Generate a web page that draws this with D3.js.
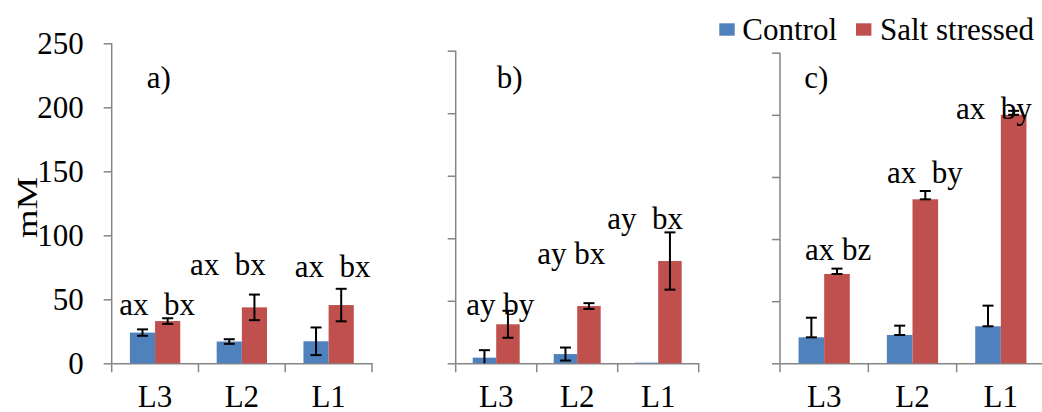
<!DOCTYPE html>
<html>
<head>
<meta charset="utf-8">
<script src="https://cdn.jsdelivr.net/npm/d3@7"></script>
<style>
  body { margin: 0; background: #fff; }
  text { font-family: "Liberation Serif", "Times New Roman", serif; fill: #000; }
</style>
</head>
<body>
<div id="chart"></div>
<script>
// DATA
var categories = ["L3", "L2", "L1"];
var panelNames = ["a)", "b)", "c)"];
var seriesNames = ["Control", "Salt stressed"];
var yTicks = [0, 50, 100, 150, 200, 250];

var controlA = [24, 17, 17.2],   controlErrA = [2.5, 1.8, 10.8];
var saltA    = [33, 43.7, 45.5], saltErrA    = [2.2, 10, 12.7];
var controlB = [4.5, 7.4, 0.5],  controlErrB = [6, 5.2, 0];
var saltB    = [31.2, 45.8, 81.8], saltErrB  = [10.8, 2.3, 22.9];
var controlC = [20.9, 22.8, 29.8], controlErrC = [15.8, 7.5, 16.6];
var saltC    = [71.9, 132, 200], saltErrC    = [4.3, 6.7, 3.2];
var errMode  = ["both", "both", "plus"];

var lettersA = ["ax  bx", "ax  bx", "ax  bx"];
var lettersB = ["ay by", "ay bx", "ay  bx"];
var lettersC = ["ax bz", "ax  by", "ax  by"];
// height (in mM) of the significance letters
var letterYA = [37.7, 69, 67.7];
var letterYB = [38.7, 79.2, 107.2];
var letterYC = [83.1, 145.4, 196.4];

var colors = ["#4F81BD", "#C0504D"];

// LAYOUT
var W = 1042, H = 412;
var bottom = 363.3;
var panelLayout = [
    {left: 111.7, right: 372,   top: 43.3, titleX: 146.7, letterDx: [2, -14, 4]},
    {left: 455.7, right: 698.7, top: 50.7, titleX: 496.7, letterDx: [4, -6, -13]},
    {left: 780,   right: 1045,  top: 52.7, titleX: 804.3, letterDx: [14, 12.5, -7]}
];
var panelData = [
    {control: controlA, controlErr: controlErrA, salt: saltA, saltErr: saltErrA, letters: lettersA, letterY: letterYA},
    {control: controlB, controlErr: controlErrB, salt: saltB, saltErr: saltErrB, letters: lettersB, letterY: letterYB},
    {control: controlC, controlErr: controlErrC, salt: saltC, saltErr: saltErrC, letters: lettersC, letterY: letterYC}
];
var axisColor = "#868686";
var fontSize = 31;

var svg = d3.select("#chart").append("svg")
    .attr("width", W)
    .attr("height", H);

panelLayout.forEach(function(lay, p) {
    var pd = panelData[p];
    var g = svg.append("g");

    var x0 = d3.scaleBand().domain(categories).range([lay.left, lay.right]).paddingInner(0).paddingOuter(0);
    var x1 = d3.scaleBand().domain(seriesNames).range([0, x0.bandwidth()]).paddingInner(0).paddingOuter(0.724);
    var y = d3.scaleLinear().domain([0, 250]).range([bottom, lay.top]);

    // y axis
    var yAxis = g.append("g")
        .attr("transform", "translate(" + lay.left + ",0)")
        .call(d3.axisLeft(y).tickValues(yTicks).tickSize(8).tickFormat(p == 0 ? d3.format("d") : ""));
    yAxis.select(".domain").attr("d", "M0," + y(250) + "V" + bottom);
    yAxis.selectAll("line, path").attr("stroke", axisColor).attr("stroke-width", 1.5);
    yAxis.selectAll("text")
        .attr("x", -28)
        .attr("dy", "0.34em")
        .style("font-family", '"Liberation Serif", serif')
        .style("font-size", fontSize + "px");

    // x axis
    var xAxis = g.append("g")
        .attr("transform", "translate(0," + bottom + ")")
        .call(d3.axisBottom(x0).tickSize(0).tickSizeOuter(0));
    xAxis.select(".domain").attr("stroke", axisColor).attr("stroke-width", 1.5);
    xAxis.selectAll("text")
        .attr("y", 44)
        .attr("dy", 0)
        .style("font-family", '"Liberation Serif", serif')
        .style("font-size", fontSize + "px");
    var bounds = [lay.left].concat(categories.map(function(c) { return x0(c) + x0.bandwidth(); }));
    xAxis.selectAll(".sep").data(bounds).enter().append("line")
        .attr("class", "sep")
        .attr("x1", function(d) { return d; }).attr("x2", function(d) { return d; })
        .attr("y1", 0).attr("y2", 9)
        .attr("stroke", axisColor).attr("stroke-width", 1.5);

    // bars
    var rows = categories.map(function(c, i) {
        return [
            {cat: c, key: seriesNames[0], v: pd.control[i], e: pd.controlErr[i], color: colors[0]},
            {cat: c, key: seriesNames[1], v: pd.salt[i], e: pd.saltErr[i], color: colors[1]}
        ];
    });
    var flat = d3.merge(rows);

    g.selectAll(".bar").data(flat).enter().append("rect")
        .attr("class", "bar")
        .attr("x", function(d) { return x0(d.cat) + x1(d.key); })
        .attr("width", x1.bandwidth())
        .attr("y", function(d) { return y(d.v); })
        .attr("height", function(d) { return bottom - y(d.v); })
        .attr("fill", function(d) { return d.color; });

    // error bars
    var errs = flat.filter(function(d) { return d.e > 0; });
    var cap = 5.5;
    var eb = g.selectAll(".err").data(errs).enter().append("g").attr("class", "err")
        .attr("stroke", "#000").attr("stroke-width", 2);
    function cx(d) { return x0(d.cat) + x1(d.key) + x1.bandwidth() / 2; }
    function lo(d) { return errMode[p] == "plus" ? d.v : Math.max(0, d.v - d.e); }
    eb.append("line")
        .attr("x1", cx).attr("x2", cx)
        .attr("y1", function(d) { return y(d.v + d.e); })
        .attr("y2", function(d) { return y(lo(d)); });
    eb.append("line")
        .attr("x1", function(d) { return cx(d) - cap; }).attr("x2", function(d) { return cx(d) + cap; })
        .attr("y1", function(d) { return y(d.v + d.e); }).attr("y2", function(d) { return y(d.v + d.e); });
    eb.filter(function(d) { return lo(d) > 0; }).append("line")
        .attr("x1", function(d) { return cx(d) - cap; }).attr("x2", function(d) { return cx(d) + cap; })
        .attr("y1", function(d) { return y(lo(d)); }).attr("y2", function(d) { return y(lo(d)); });

    // significance letters
    g.selectAll(".letters").data(pd.letters).enter().append("text")
        .attr("class", "letters")
        .attr("x", function(d, i) { return x0(categories[i]) + x0.bandwidth() / 2 + lay.letterDx[i]; })
        .attr("y", function(d, i) { return y(pd.letterY[i]); })
        .attr("text-anchor", "middle")
        .style("white-space", "pre")
        .style("font-size", fontSize + "px")
        .text(function(d) { return d; });

    // panel title
    g.append("text")
        .attr("x", lay.titleX)
        .attr("y", 88)
        .style("font-size", fontSize + "px")
        .text(panelNames[p]);
});

// y axis title
svg.append("text")
    .attr("transform", "translate(36.5,207.5) rotate(-90)")
    .attr("text-anchor", "middle")
    .attr("textLength", 61)
    .attr("lengthAdjust", "spacingAndGlyphs")
    .style("font-size", "30px")
    .text("mM");

/* LEGEND */
svg.append("clipPath").attr("id", "legendClip")
    .append("rect").attr("x", 700).attr("y", 0).attr("width", 342).attr("height", 40.5);
var legendX = [719.3, 856];
var legend = svg.append("g").attr("clip-path", "url(#legendClip)")
    .selectAll("g").data(seriesNames).enter().append("g")
    .attr("transform", function(d, i) { return "translate(" + legendX[i] + ",0)"; });
legend.append("rect")
    .attr("y", 23.3)
    .attr("width", 15.4)
    .attr("height", 12.4)
    .attr("fill", function(d, i) { return colors[i]; });
legend.append("text")
    .attr("x", function(d, i) { return i == 0 ? 23 : 24; })
    .attr("y", 40)
    .style("font-size", fontSize + "px")
    .text(function(d) { return d; });
</script>
</body>
</html>
